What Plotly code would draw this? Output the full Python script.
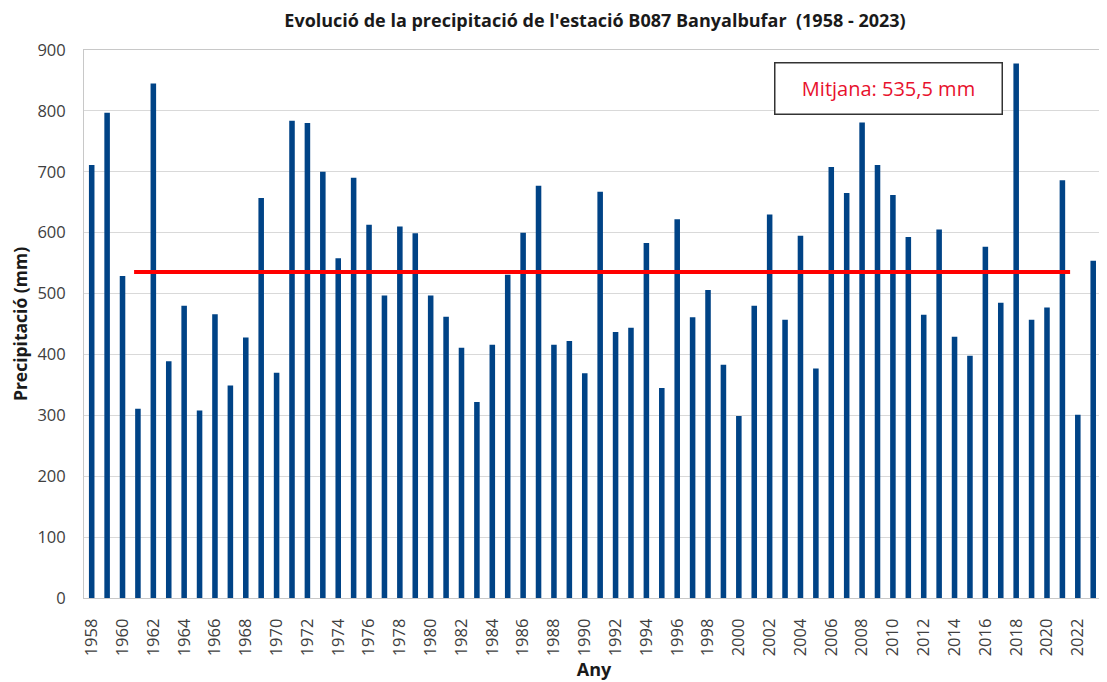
import plotly.graph_objects as go

years = list(range(1958, 2024))
precip = [711, 797, 529, 311, 845, 389, 480, 308, 466, 349,
          428, 657, 370, 784, 780, 700, 558, 690, 613, 497,
          610, 599, 497, 462, 411, 322, 416, 531, 600, 677,
          416, 422, 369, 667, 437, 444, 583, 345, 622, 461,
          506, 383, 299, 480, 630, 457, 595, 377, 708, 665,
          781, 711, 662, 593, 465, 605, 429, 398, 577, 485,
          878, 457, 477, 686, 301, 554]
mean_value = 535.5
mean_x = [1960.75, 2021.5]
tick_years = list(range(1958, 2023, 2))

font = "Open Sans"
fig = go.Figure()
fig.add_trace(go.Bar(x=years, y=precip, width=0.36,
                     marker=dict(color="#004386", line=dict(width=0)),
                     showlegend=False))
fig.add_trace(go.Scatter(x=mean_x, y=[mean_value, mean_value], mode="lines",
                         line=dict(color="#ff0000", width=4), showlegend=False))

fig.add_annotation(x=2009.7, y=836, xref="x", yref="y",
                   text="Mitjana: 535,5 mm", showarrow=False,
                   font=dict(family=font, size=20, color="#e8112d"),
                   width=222, height=46, bordercolor="#333333", borderwidth=1.5,
                   bgcolor="white", borderpad=2)

# page has an 8px body margin; figure sized so it ends at the window edge
fig.update_layout(
    width=1099, height=674,
    margin=dict(l=76, r=3, t=42, b=84),
    paper_bgcolor="white", plot_bgcolor="white",
    title=dict(text="<b>Evolució de la precipitació de l'estació B087 Banyalbufar  (1958 - 2023)</b>",
               x=587/1099, xanchor="center", xref="container",
               y=1 - 13/674, yanchor="middle", yref="container",
               font=dict(family=font, size=18, color="#1a1a1a")),
    font=dict(family=font, color="#404040"),
)
fig.update_xaxes(range=[1957.5, 2023.7], tickmode="array", tickvals=tick_years,
                 ticktext=[str(y) for y in tick_years], tickangle=-90,
                 tickfont=dict(family=font, size=16.5, color="#404040"),
                 showgrid=False, showline=True, linecolor="#c8c8c8", linewidth=1,
                 mirror=True, ticks="", ticklabelstandoff=13, automargin=False,
                 title=dict(text="<b>Any</b>", font=dict(family=font, size=18, color="#1a1a1a"),
                            standoff=8))
fig.update_yaxes(range=[0, 900], dtick=100, tickfont=dict(family=font, size=16.5, color="#404040"),
                 showgrid=True, gridcolor="#d9d9d9", gridwidth=1,
                 showline=True, linecolor="#c8c8c8", linewidth=1, mirror=True,
                 zeroline=False, ticks="", ticklabelstandoff=14, automargin=False,
                 title=dict(text="<b>Precipitació (mm)</b>", font=dict(family=font, size=17.5, color="#1a1a1a"),
                            standoff=8))

fig.write_html("out.html")
